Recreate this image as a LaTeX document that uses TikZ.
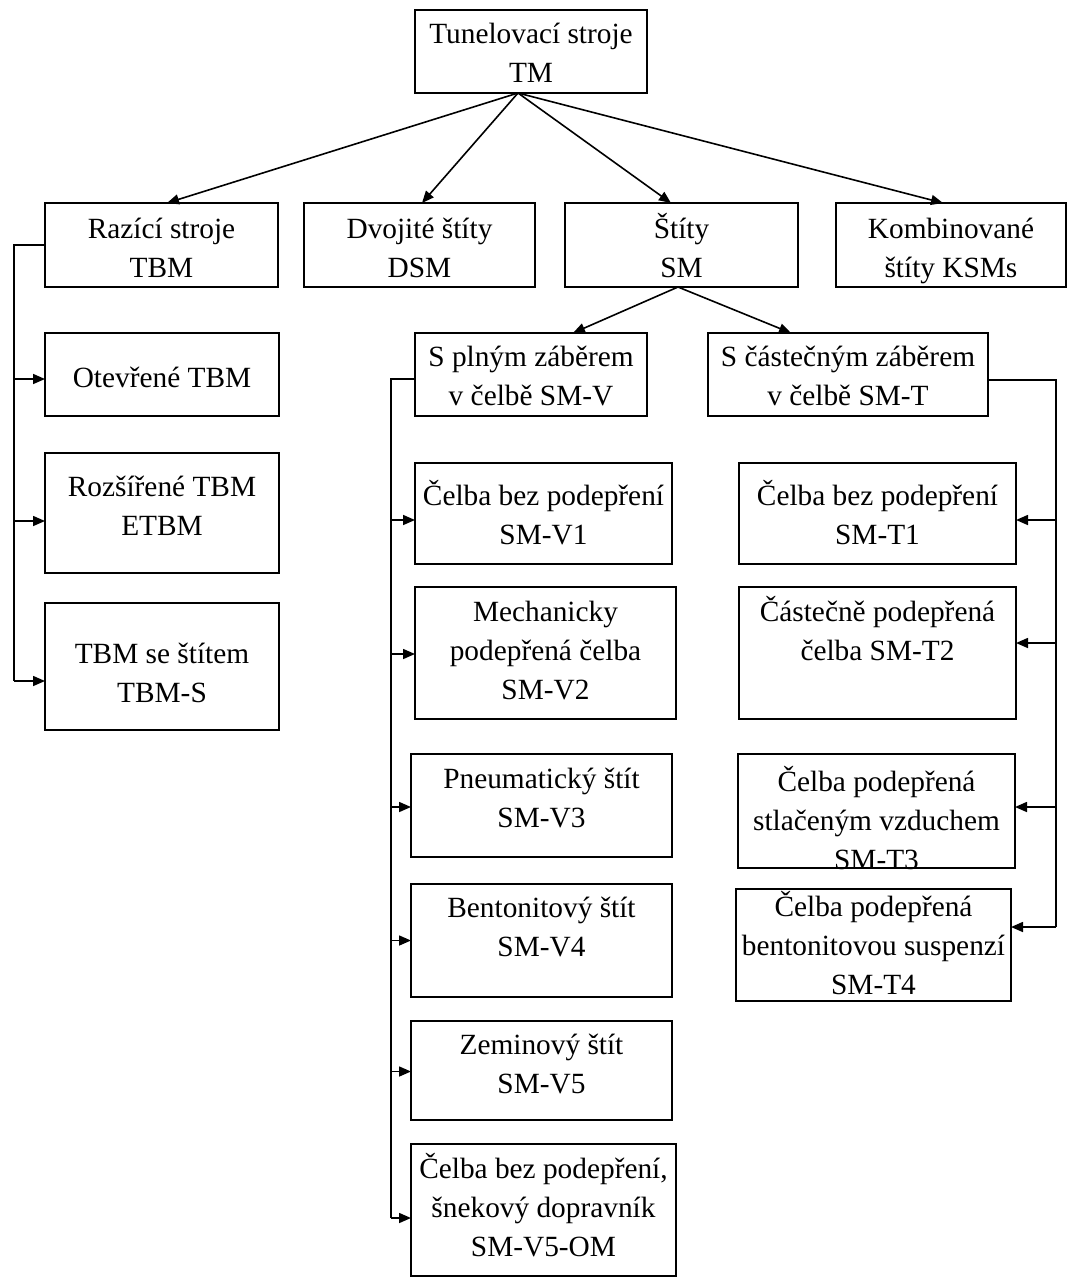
\documentclass[tikz,border=0pt]{standalone}
\usepackage{fontspec}
\setmainfont{Liberation Serif}
\usetikzlibrary{arrows.meta,calc}
\tikzset{
  box/.style={draw, line width=1.2pt, inner sep=0pt, outer sep=0pt, anchor=north west,
              font=\fontsize{22}{29.25}\selectfont},
  conn/.style={line width=1.2pt},
  arr/.style={conn, -{Triangle[length=9pt,width=7.5pt]}}
}
% name, x1, y1, x2, y2 (pixels), first-line centre offset (px), text
\newcommand\bx[7]{%
  \pgfmathsetmacro\bxw{(#4-#2)*0.75}%
  \pgfmathsetmacro\bxh{(#5-#3)*0.75}%
  \pgfmathsetmacro\bxv{#6*0.75-14}%
  \node[box, minimum width=\bxw pt, minimum height=\bxh pt] (#1) at (#2,#3)
    {\parbox[t][\bxh pt][t]{\bxw pt}{\centering\vspace*{\bxv pt}\strut #7}};%
}
\begin{document}
\begin{tikzpicture}[x=0.75pt,y=-0.75pt]
\useasboundingbox (0,0) rectangle (1068,1278);

\bx{tm}{415}{10}{647}{93}{25}{Tunelovací stroje\\TM}
\bx{raz}{45}{203}{278}{287}{27}{Razící stroje\\TBM}
\bx{dsm}{304}{203}{535}{287}{27}{Dvojité štíty\\DSM}
\bx{sm}{565}{203}{798}{287}{27}{Štíty\\SM}
\bx{ksm}{836}{203}{1066}{287}{27}{Kombinované\\štíty KSMs}

\bx{ot}{45}{333}{279}{416}{46}{Otevřené TBM}
\bx{roz}{45}{453}{279}{573}{35}{Rozšířené TBM\\ETBM}
\bx{tbms}{45}{603}{279}{730}{52}{TBM se štítem\\TBM-S}

\bx{smv}{415}{333}{647}{416}{25}{S plným záběrem\\v čelbě SM-V}
\bx{smt}{708}{333}{988}{416}{25}{S částečným záběrem\\v čelbě SM-T}

\bx{v1}{415}{463}{672}{564}{34}{Čelba bez podepření\\SM-V1}
\bx{v2}{415}{587}{676}{719}{26}{Mechanicky\\podepřená čelba\\SM-V2}
\bx{v3}{411}{754}{672}{857}{26}{Pneumatický štít\\SM-V3}
\bx{v4}{411}{884}{672}{997}{25}{Bentonitový štít\\SM-V4}
\bx{v5}{411}{1021}{672}{1120}{25}{Zeminový štít\\SM-V5}
\bx{v5om}{411}{1144}{676}{1276}{26}{Čelba bez podepření,\\šnekový dopravník\\SM-V5-OM}

\bx{t1}{739}{463}{1016}{564}{34}{Čelba bez podepření\\SM-T1}
\bx{t2}{739}{587}{1016}{719}{26}{Částečně podepřená\\čelba SM-T2}
\bx{t3}{738}{754}{1015}{868}{29}{Čelba podepřená\\stlačeným vzduchem\\SM-T3}
\bx{t4}{736}{889}{1011}{1001}{19}{Čelba podepřená\\bentonitovou suspenzí\\SM-T4}

% top level arrows
\coordinate (tmo) at ($(tm.south)+(-13,0)$);
\draw[arr] (tmo) -- ($(raz.north)+(5.5,0)$);
\draw[arr] (tmo) -- ($(dsm.north)+(2.5,0)$);
\draw[arr] (tmo) -- ($(sm.north)+(-10.5,0)$);
\draw[arr] (tmo) -- ($(ksm.north)+(-8,0)$);

% SM split
\coordinate (smo) at ($(sm.south)+(-3.5,0)$);
\draw[arr] (smo) -- ($(smv.north)+(42,0)$);
\draw[arr] (smo) -- ($(smt.north)+(-57,0)$);

% left bracket (TBM)
\coordinate (Lb) at (14,681);
\draw[conn] (raz.west) -| (Lb);
\foreach \n/\d in {ot/4.5, roz/8, tbms/14.5}{
  \coordinate (\n-in) at ($(\n.west)+(0,\d)$);
  \draw[arr] (Lb |- \n-in) -- (\n-in);
}

% SM-V trunk
\coordinate (smv-out) at ($(smv.west)+(0,4.5)$);
\coordinate (Vb) at (391,1218);
\draw[conn] (smv-out) -| (Vb);
\foreach \n/\d in {v1/6.5, v2/1, v3/1.5, v4/0, v5/1, v5om/8}{
  \coordinate (\n-in) at ($(\n.west)+(0,\d)$);
  \draw[arr] (Vb |- \n-in) -- (\n-in);
}

% SM-T trunk
\coordinate (smt-out) at ($(smt.east)+(0,5.5)$);
\coordinate (Tb) at (1056,927);
\draw[conn] (smt-out) -| (Tb);
\foreach \n/\d in {t1/6.5, t2/-10, t3/-4, t4/-18}{
  \coordinate (\n-in) at ($(\n.east)+(0,\d)$);
  \draw[arr] (Tb |- \n-in) -- (\n-in);
}
\end{tikzpicture}
\end{document}
